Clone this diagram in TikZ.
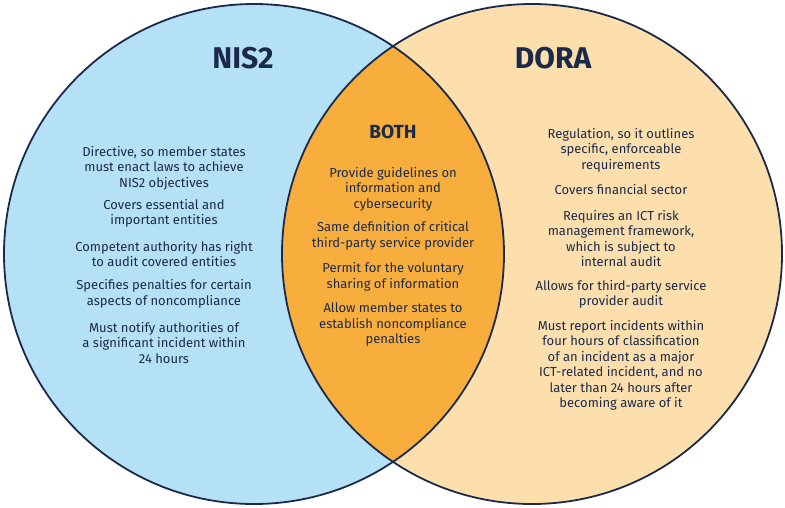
\documentclass[tikz,border=0pt]{standalone}
\usepackage{fontspec}
\setmainfont{Fira Sans}
\definecolor{navy}{HTML}{1B2A4A}
\definecolor{lblue}{HTML}{B5E1F6}
\definecolor{lpeach}{HTML}{FDDFAE}
\definecolor{orng}{HTML}{F8AE3C}
\begin{document}
\begin{tikzpicture}[x=1pt,y=-1pt,
  txt/.style={align=center,text=navy,font=\fontsize{13}{15.5}\selectfont,inner sep=0pt},
  ttl/.style={text=navy,font=\fontsize{30}{32}\bfseries\selectfont,inner sep=0pt},
  ring/.style={draw=navy,line width=1.8pt}]
\useasboundingbox (0,0) rectangle (785,507);
\coordinate (L) at (254,254);
\coordinate (R) at (532,254);
\fill[lblue] (L) circle (250);
\fill[lpeach] (R) circle (250);
\begin{scope}
\clip (L) circle (250);
\fill[orng] (R) circle (250);
\end{scope}
\draw[ring] (L) circle (250);
\draw[ring] (R) circle (250);
\node[ttl] (nis) at (243,58) {NIS2};
\node[ttl] (dora) at (553,58) {DORA};
\node[ttl,font=\fontsize{19}{21}\bfseries\selectfont] (both) at (393,132) {BOTH};
\node[txt] (l1) at (164,168) {Directive, so member states\\must enact laws to achieve\\NIS2 objectives};
\node[txt] (l2) at (164,213.5) {Covers essential and\\important entities};
\node[txt] (l3) at (164,254) {Competent authority has right\\to audit covered entities};
\node[txt] (l4) at (164,294) {Specifies penalties for certain\\aspects of noncompliance};
\node[txt] (l5) at (164,343) {Must notify authorities of\\a significant incident within\\24 hours};
\node[txt] (c1) at (393,189) {Provide guidelines on\\information and\\cybersecurity};
\node[txt] (c2) at (393,236) {Same definition of critical\\third-party service provider};
\node[txt] (c3) at (393,277) {Permit for the voluntary\\sharing of information};
\node[txt] (c4) at (393,325) {Allow member states to\\establish noncompliance\\penalties};
\node[txt] (r1) at (621,150) {Regulation, so it outlines\\specific, enforceable\\requirements};
\node[txt] (r2) at (621,190) {Covers financial sector};
\node[txt] (r3) at (621,238.5) {Requires an ICT risk\\management framework,\\which is subject to\\internal audit};
\node[txt] (r4) at (621,294.5) {Allows for third-party service\\provider audit};
\node[txt] (r5) at (621,365.5) {Must report incidents within\\four hours of classification\\of an incident as a major\\ICT-related incident, and no\\later than 24 hours after\\becoming aware of it};
\end{tikzpicture}
\end{document}
